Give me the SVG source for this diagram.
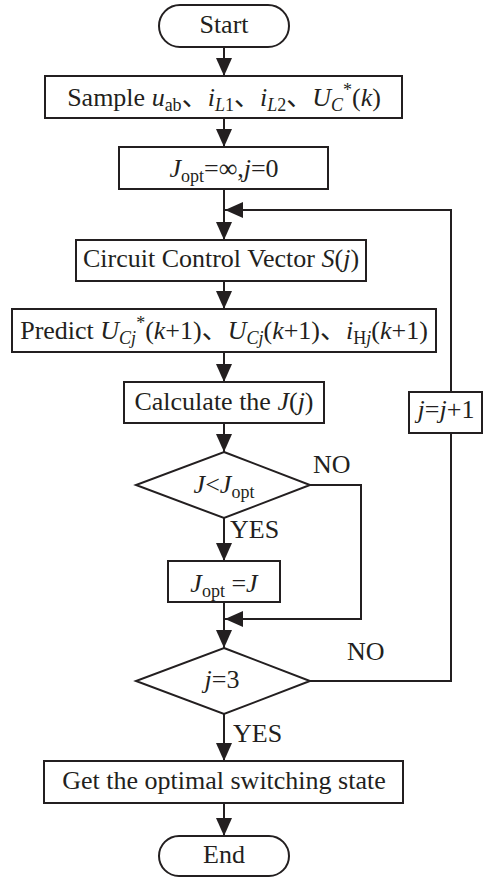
<svg xmlns="http://www.w3.org/2000/svg" width="483" height="877" viewBox="0 0 483 877">
<defs>
<style>
text{font-family:"Liberation Serif","Times New Roman","Noto Sans CJK SC",serif;font-size:26px;fill:#231f20;}
.c{text-anchor:middle;}
.i{font-style:italic;}
.s{font-size:18px;}
.shape{fill:#fff;stroke:#231f20;stroke-width:2;}
.conn path{fill:none;stroke:#231f20;stroke-width:2;}
</style>
<marker id="ah" viewBox="0 0 18 16" refX="18" refY="8" markerWidth="18" markerHeight="16" markerUnits="userSpaceOnUse" orient="auto">
<path d="M0,0 L18,8 L0,16 z" fill="#231f20"/>
</marker>
</defs>
<rect width="483" height="877" fill="#fff"/>
<g class="conn">
<path d="M224,47 V76" marker-end="url(#ah)"/>
<path d="M224,118 V147" marker-end="url(#ah)"/>
<path d="M224,189 V240" marker-end="url(#ah)"/>
<path d="M224,281 V309" marker-end="url(#ah)"/>
<path d="M224,352 V382" marker-end="url(#ah)"/>
<path d="M224,423 V452" marker-end="url(#ah)"/>
<path d="M224,518 V561" marker-end="url(#ah)"/>
<path d="M310,485 H361 V619 H225" marker-end="url(#ah)"/>
<path d="M224,602 V648" marker-end="url(#ah)"/>
<path d="M310,681 H451 V433"/>
<path d="M451,392 V210 H225" marker-end="url(#ah)"/>
<path d="M224,714 V761" marker-end="url(#ah)"/>
<path d="M224,803 V836" marker-end="url(#ah)"/>
</g>
<g id="start"><rect class="shape" x="159" y="5" width="130" height="42" rx="21"/><text class="c" x="224" y="33">Start</text></g>
<g id="sample"><rect class="shape" x="45" y="76" width="357" height="42"/>
<text class="c" x="224" y="106">Sample <tspan class="i">u</tspan><tspan class="s" dy="5">ab</tspan><tspan dy="-5">、</tspan><tspan class="i">i</tspan><tspan class="s i" dy="5">L</tspan><tspan class="s">1</tspan><tspan dy="-5">、</tspan><tspan class="i">i</tspan><tspan class="s i" dy="5">L</tspan><tspan class="s">2</tspan><tspan dy="-5">、</tspan><tspan class="i">U</tspan><tspan class="s i" dy="5">C</tspan><tspan class="s" dy="-15">*</tspan><tspan dy="10">(</tspan><tspan class="i">k</tspan>)</text></g>
<g id="init"><rect class="shape" x="119" y="147" width="209" height="42"/>
<text class="c" x="224" y="177"><tspan class="i">J</tspan><tspan class="s" dy="5">opt</tspan><tspan dy="-5">=∞,</tspan><tspan class="i">j</tspan>=0</text></g>
<g id="circuit"><rect class="shape" x="76" y="240" width="290" height="41"/>
<text class="c" x="221" y="267">Circuit Control Vector <tspan class="i">S</tspan>(<tspan class="i">j</tspan>)</text></g>
<g id="predict"><rect class="shape" x="12" y="309" width="424" height="43"/>
<text class="c" x="224" y="339">Predict <tspan class="i">U</tspan><tspan class="s i" dy="5">Cj</tspan><tspan class="s" dy="-15">*</tspan><tspan dy="10">(</tspan><tspan class="i">k</tspan>+1)、<tspan class="i">U</tspan><tspan class="s i" dy="5">Cj</tspan><tspan dy="-5">(</tspan><tspan class="i">k</tspan>+1)、<tspan class="i">i</tspan><tspan class="s" dy="5">H</tspan><tspan class="s i">j</tspan><tspan dy="-5">(</tspan><tspan class="i">k</tspan>+1)</text></g>
<g id="calc"><rect class="shape" x="124" y="382" width="200" height="41"/>
<text class="c" x="224" y="410">Calculate the <tspan class="i">J</tspan>(<tspan class="i">j</tspan>)</text></g>
<g id="cmp"><path class="shape" d="M224,452 L310,485 L224,518 L136,485 Z"/>
<text class="c" x="224" y="493"><tspan class="i">J</tspan>&lt;<tspan class="i">J</tspan><tspan class="s" dy="5">opt</tspan></text></g>
<g id="update"><rect class="shape" x="168" y="561" width="112" height="41"/>
<text class="c" x="224" y="592"><tspan class="i">J</tspan><tspan class="s" dy="5">opt</tspan><tspan dy="-5"> =</tspan><tspan class="i">J</tspan></text></g>
<g id="check"><path class="shape" d="M224,648 L310,681 L224,714 L136,681 Z"/>
<text class="c" x="222" y="688"><tspan class="i">j</tspan>=3</text></g>
<g id="inc"><rect class="shape" x="409" y="392" width="73" height="41"/>
<text class="c" x="446" y="418"><tspan class="i">j</tspan>=<tspan class="i">j</tspan>+1</text></g>
<g id="get"><rect class="shape" x="44" y="761" width="359" height="42"/>
<text class="c" x="224" y="789">Get the optimal switching state</text></g>
<g id="end"><rect class="shape" x="159" y="836" width="130" height="40" rx="20"/><text class="c" x="224" y="863">End</text></g>
<g id="labels">
<text x="313" y="473">NO</text>
<text x="230" y="538">YES</text>
<text x="347" y="660">NO</text>
<text x="233" y="742">YES</text>
</g>
</svg>
